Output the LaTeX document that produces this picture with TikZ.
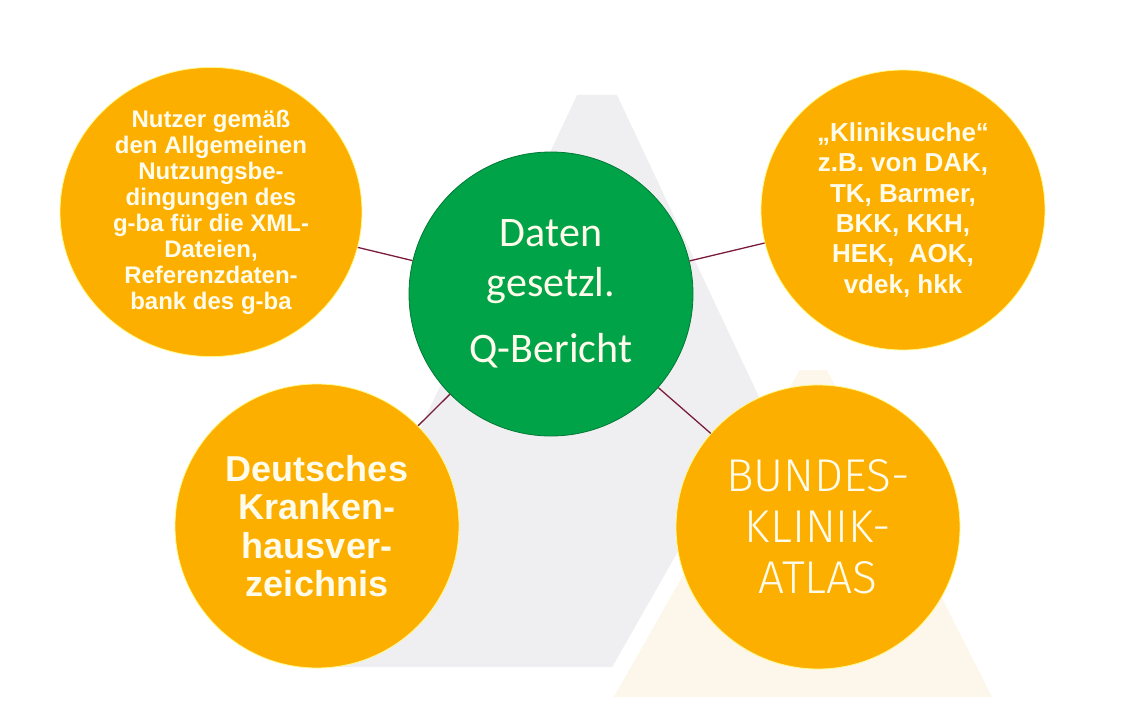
\documentclass[tikz,border=0pt]{standalone}
\usepackage{fontspec}
\setmainfont{Liberation Sans}
\newfontfamily\calibrifont{Carlito}
\newfontfamily\thinfont{Fira Sans Light}
\usepackage{tikz}
\tikzset{>=latex}
\usetikzlibrary{shapes.geometric}

\definecolor{bubbleOrange}{RGB}{253,175,0}
\definecolor{bubbleGreen}{RGB}{0,163,71}
\definecolor{linkRed}{RGB}{122,28,58}
\definecolor{bgGray}{RGB}{239,239,241}
\definecolor{bgCream}{RGB}{253,246,234}
\definecolor{textCream}{RGB}{255,252,236}

\tikzset{
  bubble/.style={ellipse,fill=bubbleOrange,draw=yellow!45!white,line width=0.8pt,
    inner sep=0pt,align=center,text=textCream},
  core/.style={circle,fill=bubbleGreen,draw=bubbleGreen!75!black,line width=0.8pt,
    inner sep=0pt,align=center,text=textCream},
  link/.style={draw=linkRed,line width=1.3pt}
}

\begin{document}
\begin{tikzpicture}[x=1pt,y=-1pt]
  % limits
  \useasboundingbox (0,0) rectangle (1138,722);
  \def\r{284pt}     % size of the round bubbles

  % background triangles
  \fill[bgGray] (577,95) -- (617,95) -- (886,667) -- (308,667) -- cycle;
  \filldraw[fill=bgCream,draw=white,line width=16pt,line join=round]
    (795,362) -- (832,362) -- (1005,705) -- (600,705) -- cycle;

  % centre
  \node[core,minimum size=\r,font=\calibrifont\fontsize{42}{50}\selectfont] (qbericht) at (551,294)
    {Daten\\gesetzl.\\[16pt]Q-Bericht};

  % bubbles
  \node[bubble,minimum width=302pt,minimum height=280pt,
        font=\bfseries\fontsize{24}{26}\selectfont] (nutzer) at (211,212)
    {Nutzer gemäß\\den Allgemeinen\\Nutzungsbe-\\dingungen des\\
     g-ba für die XML-\\Dateien,\\Referenzdaten-\\bank des g-ba};
  \node[bubble,minimum width=284pt,minimum height=280pt,
        font=\bfseries\fontsize{26}{30.3}\selectfont] (kliniksuche) at (903,210)
    {„Kliniksuche“\\z.B. von DAK,\\TK, Barmer,\\BKK, KKH,\\HEK,\ \ AOK,\\vdek, hkk};
  \node[bubble,minimum size=\r,font=\bfseries\fontsize{36}{38.5}\selectfont] (verzeichnis) at (317,526)
    {Deutsches\\Kranken-\\hausver-\\zeichnis};
  \node[bubble,minimum size=\r,font=\thinfont\fontsize{46}{51}\selectfont] (atlas) at (818,527)
    {BUNDES-\\KLINIK-\\ATLAS};

  % links
  \foreach \b in {nutzer,kliniksuche,verzeichnis,atlas}
    \draw[link] (qbericht) -- (\b);
\end{tikzpicture}
\end{document}
